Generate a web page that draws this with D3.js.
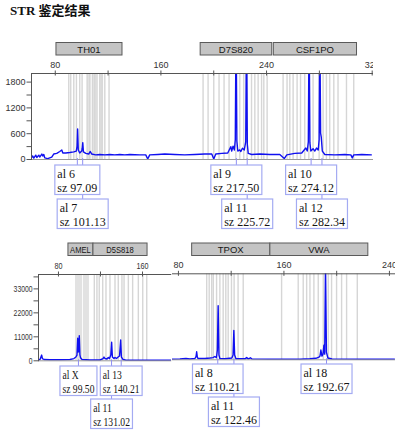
<!DOCTYPE html>
<html>
<head>
<meta charset="utf-8">
<script src="https://cdn.jsdelivr.net/npm/d3@7"></script>
<style>
body { margin: 0; background: #fff; }
svg { display: block; }
</style>
</head>
<body>
<svg id="chart" width="395" height="441"></svg>
<script>
// ---- data: [size bp, RFU] ----
var traceA = [
  [61.8,10],[63.3,70],[64.1,20],[65.6,90],[66.4,35],[67.9,90],[68.6,45],[70.2,115],[70.9,70],[71.7,105],
  [72.4,25],[74.7,10],[77.7,45],[79.2,115],[81.5,130],[83.8,175],[85.3,210],[86.1,140],[88.3,140],[91.4,150],
  [94.4,165],[96.3,185],[96.9,300],[97.3,700],[97.8,210],[98.9,140],[100.4,185],[100.8,250],[101.2,380],[101.7,165],
  [103.5,130],[105.7,115],[106.9,175],[108.0,115],[111.0,95],[114.1,105],[117.9,95],[121.7,105],[125.4,95],[129.2,105],
  [133.0,95],[136.8,105],[144.4,95],[148.9,95],[150.4,0],[151.9,95],[158.0,105],[163.3,115],[170.9,105],[178.4,95],
  [186.0,105],[193.6,115],[198.9,115],[200.4,0],[201.9,115],[206.5,130],[211.0,140],[213.3,285],[214.0,185],[215.0,300],
  [216.0,210],[216.7,450],[217.3,3200],[217.9,420],[218.6,185],[220.1,210],[220.9,175],[222.1,250],[223.5,210],[224.6,400],
  [225.2,3200],[225.8,350],[226.5,130],[229.2,105],[235.2,115],[242.8,105],[250.4,105],[253.8,10],[255.7,95],[261.7,130],
  [267.0,140],[270.1,255],[271.2,185],[272.0,400],[272.6,3200],[273.2,380],[273.9,185],[275.6,240],[276.9,185],[278.2,255],
  [279.5,210],[280.2,450],[280.7,3200],[281.3,600],[281.8,510],[282.6,185],[284.5,105],[292.0,95],[299.6,105],[304.2,95],
  [305.3,25],[306.4,95],[312.5,105],[320.1,95]
];
var traceB = [
  [61.0,140],[62.9,370],[63.8,1500],[64.5,2400],[65.2,800],[66.7,370],[72.4,230],[81.9,230],[91.4,370],[95.2,800],
  [97.1,1500],[98.1,2400],[98.8,10100],[99.3,3800],[99.8,4000],[100.3,11300],[100.9,2500],[101.5,1200],[102.9,370],[110.5,140],
  [120.0,140],[122.9,800],[123.8,1500],[124.8,800],[126.7,600],[127.9,1300],[129.0,800],[130.3,2400],[131.1,8300],[131.8,1500],
  [133.3,800],[134.3,1300],[135.7,800],[136.7,1300],[138.6,2000],[139.7,9300],[140.4,1500],[141.9,370],[144.8,0],[158.1,0],
  [187.6,0]
];
var traceC = [
  [75.5,0],[81.5,140],[86.1,370],[89.1,140],[92.9,370],[93.7,1200],[94.2,3500],[94.7,1000],[95.2,370],[100.5,370],
  [104.3,600],[106.5,800],[108.0,1300],[109.2,800],[109.9,4300],[110.5,24900],[111.1,2000],[111.8,370],[115.6,230],[120.9,600],
  [121.8,2000],[122.4,13400],[123.0,2000],[124.0,230],[130.8,230],[132.1,800],[133.4,230],[135.0,700],[136.1,140],[149.7,0],
  [172.5,0],[180.1,230],[184.6,460],[186.9,1000],[187.7,1500],[188.4,4300],[189.2,1500],[190.0,2400],[190.7,6600],[191.3,2400],
  [191.9,45000],[192.6,3300],[193.7,600],[196.8,140],[218.0,0],[244.5,0]
];

// marker name, start bp, end bp
var markersA = [['TH01', 80.9, 130.9], ['D7S820', 190.1, 244.3], ['CSF1PO', 245.5, 308.5]];
var markersB = [['AMEL', 89.5, 113.3], ['D5S818', 113.3, 164.8]];
var markersC = [['TPOX', 90.4, 149.7], ['VWA', 149.7, 224.0]];

// allele bins (bp)
var binsA = [90.6,92.1,94.4,96.4,98.9,100.7,104.5,106.5,108.5,110.3,112.0,114.1,115.8,117.9,121.1,
  192.3,196.1,200.4,204.4,208.2,212.0,217.1,220.1,223.1,225.6,229.0,231.5,234.0,236.6,238.3,240.8,
  252.9,255.9,258.0,260.5,263.5,266.1,269.3,272.4,275.6,280.2,283.2,285.7,288.2,291.3,294.5,300.9,306.4];
var bandsA = [[104.5,107.0],[108.5,111.6],[113.5,116.6]];
var binsB = [114.6,117.1,119.3,122.6,125.7,129.5,134.3,137.4,140.9,142.9,147.0,151.1,156.5,160.7,164.5];
var bandsB = [[96.2,103.0],[103.8,109.5]];
var binsC = [101.8,103.7,105.6,106.8,109.3,111.8,114.3,116.3,118.1,120.6,122.6,125.6,129.5,
  158.6,171.2,175.0,177.6,180.1,183.1,186.4,190.2,194.0,196.5,200.3,204.1,207.9,216.0];
var bandsC = [];

// allele calls: allele, size
var labelsA = [['6', 97.09], ['7', 101.13], ['9', 217.50], ['11', 225.72], ['10', 274.12], ['12', 282.34]];
var labelsB = [['X', 99.50], ['11', 131.02], ['13', 140.21]];
var labelsC = [['8', 110.21], ['11', 122.46], ['18', 192.67]];

// tick values
var xTicksA = [80, 120, 160, 200, 240, 280, 320], xLabelsA = [80, 160, 240, 320];
var yTicksA = [0, 300, 600, 900, 1200, 1500, 1800], yLabelsA = [0, 600, 1200, 1800];
var xTicksB = [80, 120, 160], xLabelsB = [80, 160];
var yTicksB = [0, 5500, 11000, 16500, 22000, 27500, 33000, 38500], yLabelsB = [0, 11000, 22000, 33000];
var xTicksC = [80, 120, 160, 200, 240], xLabelsC = [80, 160, 240];

var svg = d3.select('#chart');
var sansFont = 'Arial, "Liberation Sans", sans-serif';
var serifFont = '"Times New Roman", "Liberation Serif", serif';

var title = svg.append('text').attr('x', 10).attr('y', 15)
  .style('font-weight', 'bold').style('font-size', '13px').attr('fill', '#111');
title.append('tspan').style('font-family', serifFont).text('STR ');
title.append('tspan').style('font-family', '"Noto Sans CJK SC", sans-serif').text('鉴定结果');

// squeeze text horizontally (the lower-left panel is narrower in the source)
var squeeze = function(sel, sx) {
  if (sx === 1) return;
  sel.each(function() {
    var t = d3.select(this);
    var x0 = +(t.attr('x') || 0);
    t.attr('x', x0 / sx).attr('transform', 'scale(' + sx + ',1)');
  });
};

var drawPanel = function(p) {
  var x = d3.scaleLinear().domain(p.xDomain).range(p.xRange);
  var y = d3.scaleLinear().domain(p.yDomain).range(p.yRange);
  var top = p.yRange[1];
  var base = y(0);

  svg.append('clipPath').attr('id', p.id + '-clip').append('rect')
    .attr('x', p.clip[0]).attr('y', 0).attr('width', p.clip[1] - p.clip[0]).attr('height', 441);
  svg.append('clipPath').attr('id', p.id + '-plot').append('rect')
    .attr('x', p.xRange[0]).attr('y', top)
    .attr('width', p.clip[1] - p.xRange[0]).attr('height', base - top + 6);

  var g = svg.append('g').attr('clip-path', 'url(#' + p.id + '-clip)');

  // marker boxes
  var m = g.selectAll('.marker').data(p.markers).enter().append('g');
  m.append('rect')
    .attr('x', function(d) { return x(d[1]); })
    .attr('y', p.markerY)
    .attr('width', function(d) { return x(d[2]) - x(d[1]); })
    .attr('height', 12.5)
    .attr('fill', '#c4c4c4').attr('stroke', '#5a5a5a').attr('stroke-width', 1);
  m.append('text')
    .attr('transform', function(d) {
      return 'translate(' + (x(d[1]) + x(d[2])) / 2 + ',' + (p.markerY + 10) + ') scale(' + p.sx + ',1)';
    })
    .attr('text-anchor', 'middle')
    .style('font-family', sansFont).style('font-size', '9.5px').attr('fill', '#151515')
    .text(function(d) { return d[0]; });

  // bins
  var pg = g.append('g').attr('clip-path', 'url(#' + p.id + '-plot)');
  pg.selectAll('.band').data(p.bands).enter().append('rect')
    .attr('x', function(d) { return x(d[0]); })
    .attr('y', top)
    .attr('width', function(d) { return x(d[1]) - x(d[0]); })
    .attr('height', base - top)
    .attr('fill', '#e2e2e2');
  pg.selectAll('.bin').data(p.bins).enter().append('line')
    .attr('x1', function(d) { return x(d); })
    .attr('x2', function(d) { return x(d); })
    .attr('y1', top).attr('y2', base)
    .attr('stroke', '#d6d6d6').attr('stroke-width', 1.4);

  // zero line
  g.append('line')
    .attr('x1', p.xRange[0]).attr('x2', p.clip[1])
    .attr('y1', base + 0.5).attr('y2', base + 0.5)
    .attr('stroke', '#9a9a9a').attr('stroke-width', 1);

  // trace
  pg.append('path').datum(p.trace)
    .attr('fill', 'none').attr('stroke', '#1010f0').attr('stroke-width', 1.4)
    .attr('stroke-linejoin', 'round')
    .attr('d', d3.line().x(function(d) { return x(d[0]); }).y(function(d) { return y(d[1]); }));

  // top axis
  var xa = d3.axisTop(x).tickValues(p.xTicks).tickSize(3).tickSizeOuter(0).tickPadding(2.5)
    .tickFormat(function(d) { return p.xLabels.indexOf(d) >= 0 ? d : ''; });
  var ax = g.append('g').attr('transform', 'translate(0,' + top + ')').call(xa)
    .attr('color', '#555').attr('font-family', sansFont).attr('font-size', 9);
  ax.select('.domain').attr('d', 'M' + p.xRange[0] + ',0.5H' + p.clip[1]);
  ax.selectAll('.tick line').attr('y1', 2.5).attr('y2', -2.5);
  ax.selectAll('.tick text').attr('fill', '#333');
  squeeze(ax.selectAll('.tick text'), p.sx);

  // left axis
  if (p.yTicks) {
    var ya = d3.axisLeft(y).tickValues(p.yTicks).tickSize(4.5).tickSizeOuter(0).tickPadding(1)
      .tickFormat(function(d) { return p.yLabels.indexOf(d) >= 0 ? d : ''; });
    var ay = g.append('g').attr('transform', 'translate(' + p.xRange[0] + ',0)').call(ya)
      .attr('color', '#555').attr('font-family', sansFont).attr('font-size', p.yFont);
    ay.select('.domain').attr('d', 'M0.5,' + top + 'V' + (base + 1));
    ay.selectAll('.tick text').attr('fill', '#333');
    squeeze(ay.selectAll('.tick text'), p.sx);
  }

  // allele call boxes, stacked into rows so they do not overlap
  var lg = g.append('g');
  var rowRight = [];
  var items = p.labels.map(function(d) {
    var t1 = 'al ' + d[0];
    var t2 = 'sz ' + d[1].toFixed(2);
    var probe = lg.append('text').style('font-family', serifFont).style('font-size', '12px');
    probe.text(t1);
    var w1 = probe.node().getComputedTextLength();
    probe.text(t2);
    var w2 = probe.node().getComputedTextLength();
    probe.remove();
    var w = Math.max(w1, w2) * p.sx + 5;
    var cx = x(d[1]);
    var row = 0;
    while (rowRight[row] !== undefined && cx - w / 2 < rowRight[row] + 1) row++;
    rowRight[row] = cx + w / 2;
    return { cx: cx, w: w, row: row, t1: t1, t2: t2 };
  });

  items.forEach(function(it) {
    lg.append('line')
      .attr('x1', it.cx).attr('x2', it.cx)
      .attr('y1', base - 1).attr('y2', p.labelTop + it.row * p.rowGap)
      .attr('stroke', '#8f8ff2').attr('stroke-width', 1);
  });
  items.forEach(function(it) {
    var by = p.labelTop + it.row * p.rowGap;
    var bx = it.cx - it.w / 2;
    lg.append('rect').attr('x', bx).attr('y', by).attr('width', it.w).attr('height', 29.5)
      .attr('fill', '#fff').attr('stroke', '#a4abf2').attr('stroke-width', 1.2);
    [it.t1, it.t2].forEach(function(s, i) {
      lg.append('text')
        .attr('transform', 'translate(' + (bx + 2.5) + ',' + (by + 12.5 + i * 14) + ') scale(' + p.sx + ',1)')
        .style('font-family', serifFont).style('font-size', '12px').attr('fill', '#151515')
        .text(s);
    });
  });
};

drawPanel({
  id: 'pa', trace: traceA, markers: markersA, bins: binsA, bands: bandsA, labels: labelsA,
  xDomain: [62, 320], xRange: [31, 371.7], yDomain: [0, 2000], yRange: [159, 73],
  clip: [0, 373], xTicks: xTicksA, xLabels: xLabelsA, yTicks: yTicksA, yLabels: yLabelsA,
  yFont: 9, markerY: 42.5, labelTop: 165, rowGap: 34, sx: 1
});
drawPanel({
  id: 'pb', trace: traceB, markers: markersB, bins: binsB, bands: bandsB, labels: labelsB,
  xDomain: [61, 187.6], xRange: [38, 171], yDomain: [0, 39600], yRange: [360.3, 274],
  clip: [0, 171.5], xTicks: xTicksB, xLabels: xLabelsB, yTicks: yTicksB, yLabels: yLabelsB,
  yFont: 8.5, markerY: 243, labelTop: 366, rowGap: 33, sx: 0.8
});
drawPanel({
  id: 'pc', trace: traceC, markers: markersC, bins: binsC, bands: bandsC, labels: labelsC,
  xDomain: [75.5, 244.6], xRange: [172, 395], yDomain: [0, 40000], yRange: [359.3, 273.3],
  clip: [171.5, 395], xTicks: xTicksC, xLabels: xLabelsC, yTicks: null, yLabels: null,
  yFont: 9, markerY: 243, labelTop: 364, rowGap: 33, sx: 1
});
</script>
</body>
</html>
